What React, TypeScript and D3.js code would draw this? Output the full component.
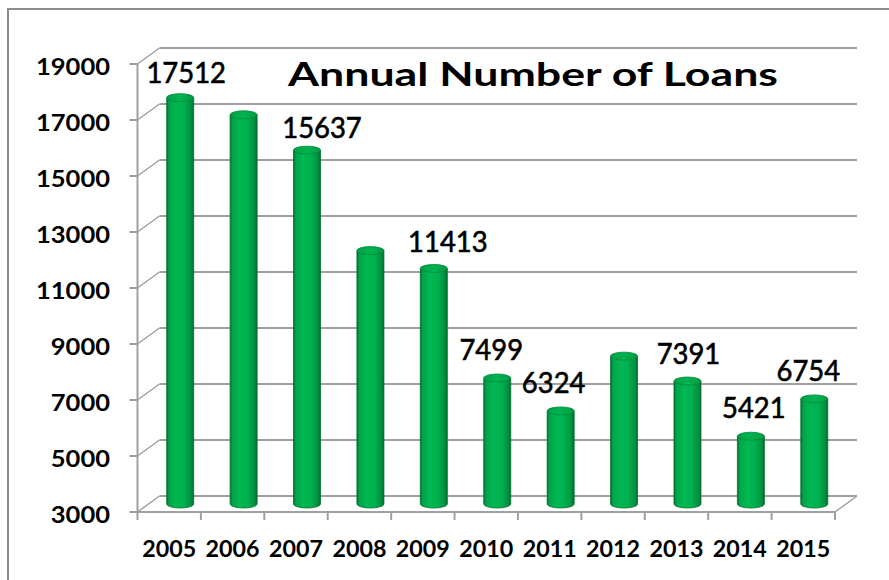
import React from "react";
import * as d3 from "d3";

const years = ["2005", "2006", "2007", "2008", "2009", "2010", "2011", "2012", "2013", "2014", "2015"];
const loans = [17512, 16900, 15637, 12050, 11413, 7499, 6324, 8280, 7391, 5421, 6754];
const yTicks = [3000, 5000, 7000, 9000, 11000, 13000, 15000, 17000, 19000];
const labelShown = [true, false, true, false, true, true, true, false, true, true, true];
const titleText = "Annual Number of Loans";

// label nudges (style): [dx, dy] relative to bar top centre
const labelNudge: [number, number][] = [
  [6, -15], [0, -18], [15, -12], [0, -18], [14, -16], [-6, -18],
  [-7, -18], [0, -18], [1, -17], [3, -18], [-6, -18],
];

const W = 889, H = 580;
const FL = 137.5, FR = 835;
const DX = 22, DY = -16;
const GRID = "#a0a0a0";
const FONT = "Lato, 'Open Sans', sans-serif";

export default function App() {
  const yF = d3.scaleLinear().domain([3000, 19000]).range([512, 64]);
  const x = d3.scaleBand<string>().domain(years).range([FL, FR]).paddingInner(0).paddingOuter(0);
  const bw = 27;
  const r = bw / 2;
  const ry = 4;
  const baseY = yF(3000) + DY / 2;

  const boundaries = years.map((y) => x(y) as number).concat([FR]);

  return (
    <svg width={W} height={H} style={{ position: "absolute", left: 0, top: 0, background: "#fff" }}>
      <defs>
        <linearGradient id="cyl" x1="0" x2="1" y1="0" y2="0">
          <stop offset="0%" stopColor="#006f2d" />
          <stop offset="8%" stopColor="#00a349" />
          <stop offset="35%" stopColor="#00b852" />
          <stop offset="65%" stopColor="#00b04e" />
          <stop offset="90%" stopColor="#009140" />
          <stop offset="100%" stopColor="#006a2b" />
        </linearGradient>
        <linearGradient id="cap" x1="0" x2="1" y1="0" y2="0">
          <stop offset="0%" stopColor="#00a046" />
          <stop offset="50%" stopColor="#00b350" />
          <stop offset="100%" stopColor="#009a44" />
        </linearGradient>
      </defs>
      <rect x={8} y={9} width={W + 20} height={H + 20} fill="#fff" stroke="#8c8c8c" strokeWidth={2} />

      {/* back wall gridlines and side wall diagonals */}
      {yTicks.map((t) => (
        <g key={t}>
          <line x1={FL + DX} x2={FR + DX} y1={yF(t) + DY} y2={yF(t) + DY} stroke={GRID} strokeWidth={2} />
          <line x1={FL} x2={FL + DX} y1={yF(t)} y2={yF(t) + DY} stroke={GRID} strokeWidth={1.5} />
          <line x1={FL - 8} x2={FL} y1={yF(t)} y2={yF(t)} stroke={GRID} strokeWidth={2} />
          <text
            x={110}
            y={yF(t) + 10.5}
            textAnchor="end"
            fontFamily={FONT}
            fontWeight="bold"
            fontSize={23.5}
            textLength={String(t).length * 14.8}
            lengthAdjust="spacingAndGlyphs"
            fill="#000"
          >
            {t}
          </text>
        </g>
      ))}
      {/* front vertical axis */}
      <line x1={FL} x2={FL} y1={yF(19000)} y2={yF(3000)} stroke={GRID} strokeWidth={2} />
      {/* floor */}
      <line x1={FL} x2={FR} y1={yF(3000)} y2={yF(3000)} stroke={GRID} strokeWidth={2} />
      <line x1={FR} x2={FR + DX} y1={yF(3000)} y2={yF(3000) + DY} stroke={GRID} strokeWidth={1.5} />
      {boundaries.map((bx, i) => (
        <line key={i} x1={bx} x2={bx} y1={yF(3000)} y2={yF(3000) + 8} stroke={GRID} strokeWidth={2} />
      ))}

      {/* x labels */}
      {years.map((yr) => (
        <text
          key={yr}
          x={(x(yr) as number) + x.bandwidth() / 2}
          y={557}
          textAnchor="middle"
          fontFamily={FONT}
          fontWeight="bold"
          fontSize={23}
          textLength={54}
          lengthAdjust="spacingAndGlyphs"
          fill="#000"
        >
          {yr}
        </text>
      ))}

      {/* bars */}
      {years.map((yr, i) => {
        const cx = (x(yr) as number) + x.bandwidth() / 2 + DX / 2;
        const top = yF(loans[i]) + DY / 2;
        return (
          <g key={yr}>
            <path
              d={`M${cx - r},${top} L${cx - r},${baseY} A${r},${ry} 0 0 0 ${cx + r},${baseY} L${cx + r},${top} Z`}
              fill="url(#cyl)"
              stroke="#00702e"
              strokeWidth={0.8}
            />
            <ellipse cx={cx} cy={top} rx={r} ry={ry} fill="url(#cap)" stroke="#00873a" strokeWidth={0.8} />
          </g>
        );
      })}

      {/* data labels */}
      {years.map((yr, i) => {
        if (!labelShown[i]) return null;
        const cx = (x(yr) as number) + x.bandwidth() / 2 + DX / 2;
        const top = yF(loans[i]) + DY / 2;
        const s = String(loans[i]);
        return (
          <text
            key={yr}
            x={cx + labelNudge[i][0]}
            y={top + labelNudge[i][1]}
            textAnchor="middle"
            fontFamily={FONT}
            fontSize={28}
            textLength={s.length * 15.9}
            lengthAdjust="spacingAndGlyphs"
            fill="#000"
            stroke="#000"
            strokeWidth={0.6}
          >
            {s}
          </text>
        );
      })}

      {/* title */}
      <text
        x={288}
        y={86}
        fontFamily={FONT}
        fontWeight="bold"
        fontSize={33}
        textLength={490}
        lengthAdjust="spacingAndGlyphs"
        fill="#000"
      >
        {titleText}
      </text>
    </svg>
  );
}
